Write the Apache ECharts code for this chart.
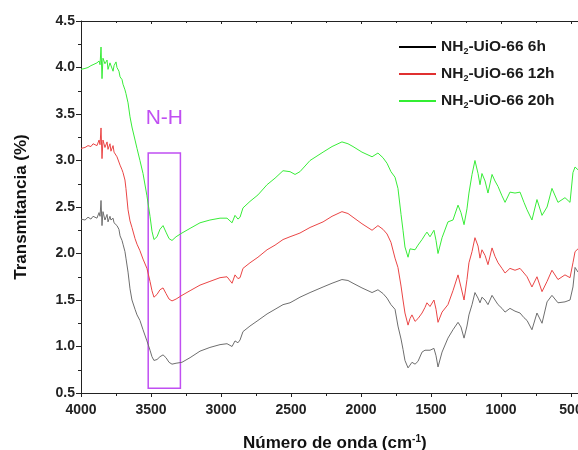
<!DOCTYPE html>
<html>
<head>
<meta charset="utf-8">
<script src="https://cdn.jsdelivr.net/npm/echarts@6/dist/echarts.min.js"></script>
<style>
html,body{margin:0;padding:0;background:#fff;}
#chart{width:578px;height:450px;}
</style>
</head>
<body>
<div id="chart"></div>
<script>
// Wavenumbers (cm^-1)
const wavenumbers = [4000,3971,3950,3929,3914,3900,3886,3871,3864,3857,3850,3843,3829,3814,3807,3793,3786,3771,3764,3750,3743,3729,3721,3707,3700,3686,3679,3664,3650,3636,3614,3600,3579,3557,3529,3507,3493,3479,3457,3436,3414,3393,3371,3350,3321,3279,3221,3150,3079,3007,2957,2921,2900,2879,2864,2843,2793,2736,2671,2614,2557,2507,2471,2436,2364,2271,2207,2136,2093,2057,1993,1921,1879,1843,1814,1786,1757,1736,1714,1700,1686,1664,1650,1636,1614,1593,1564,1543,1529,1507,1479,1464,1450,1421,1379,1343,1307,1286,1264,1243,1229,1207,1186,1164,1150,1136,1114,1093,1064,1043,1021,993,971,936,900,864,836,814,779,743,707,671,636,593,543,507,486,471,450];
const values6h = [2.37,2.36,2.39,2.37,2.40,2.42,2.38,2.44,2.40,2.57,2.30,2.45,2.36,2.42,2.34,2.40,2.36,2.38,2.33,2.34,2.30,2.26,2.19,2.14,2.10,2.02,1.95,1.80,1.62,1.50,1.40,1.34,1.28,1.18,1.06,0.96,0.89,0.85,0.86,0.89,0.91,0.88,0.83,0.81,0.82,0.83,0.88,0.95,0.99,1.02,1.03,1.00,1.06,1.04,1.07,1.16,1.22,1.28,1.35,1.40,1.45,1.47,1.50,1.53,1.58,1.64,1.68,1.72,1.71,1.68,1.63,1.58,1.61,1.57,1.52,1.45,1.40,1.22,1.08,0.97,0.85,0.77,0.80,0.83,0.81,0.84,0.94,0.96,0.98,0.96,0.98,0.90,0.78,0.94,1.09,1.18,1.26,1.21,1.09,1.22,1.34,1.45,1.58,1.52,1.47,1.53,1.50,1.45,1.55,1.50,1.45,1.41,1.37,1.41,1.38,1.36,1.31,1.28,1.18,1.36,1.25,1.48,1.55,1.47,1.48,1.50,1.64,1.85,1.80];
const values12h = [3.13,3.14,3.16,3.15,3.18,3.20,3.16,3.22,3.17,3.35,3.02,3.22,3.14,3.20,3.12,3.18,3.10,3.16,3.09,3.11,3.04,3.02,2.95,2.90,2.87,2.79,2.70,2.47,2.35,2.28,2.16,2.10,2.03,1.94,1.84,1.70,1.60,1.53,1.56,1.61,1.63,1.57,1.51,1.49,1.51,1.55,1.60,1.66,1.70,1.74,1.75,1.68,1.77,1.73,1.74,1.84,1.90,1.96,2.04,2.09,2.15,2.18,2.20,2.22,2.28,2.34,2.40,2.45,2.43,2.39,2.32,2.25,2.30,2.26,2.21,2.12,1.95,1.85,1.65,1.50,1.36,1.23,1.30,1.34,1.27,1.30,1.36,1.42,1.47,1.43,1.50,1.40,1.26,1.37,1.45,1.60,1.77,1.64,1.50,1.72,1.90,2.02,2.17,2.08,1.95,2.04,1.98,1.88,2.06,1.97,1.90,1.84,1.79,1.84,1.82,1.84,1.79,1.75,1.64,1.75,1.59,1.70,1.82,1.72,1.77,1.74,1.90,2.02,2.05];
const values20h = [3.98,3.99,4.00,4.02,4.03,4.02,4.05,4.07,4.03,4.22,3.88,4.10,4.04,4.08,3.98,4.05,4.07,3.96,4.02,4.06,4.00,3.96,3.90,3.87,3.82,3.76,3.72,3.62,3.47,3.36,3.22,3.13,3.00,2.86,2.62,2.40,2.24,2.15,2.18,2.26,2.30,2.23,2.16,2.14,2.18,2.22,2.27,2.33,2.36,2.38,2.38,2.33,2.41,2.37,2.39,2.49,2.56,2.63,2.74,2.81,2.89,2.88,2.85,2.88,3.00,3.09,3.15,3.20,3.18,3.15,3.09,3.04,3.08,3.03,2.97,2.88,2.82,2.70,2.42,2.25,2.07,1.96,2.05,2.04,2.04,2.09,2.15,2.20,2.23,2.18,2.25,2.14,2.00,2.17,2.34,2.36,2.52,2.44,2.31,2.48,2.65,2.85,3.00,2.86,2.74,2.86,2.78,2.65,2.85,2.78,2.72,2.62,2.55,2.66,2.65,2.66,2.55,2.47,2.36,2.58,2.41,2.50,2.70,2.55,2.60,2.55,2.87,2.93,2.90];
const seriesNames = ['NH2-UiO-66 6h','NH2-UiO-66 12h','NH2-UiO-66 20h'];
const xRange = [0, 4000];   // axis runs beyond the visible right edge (cropped like the original)
const xInterval = 500;
const yTicks = [0.5,1.0,1.5,2.0,2.5,3.0,3.5,4.0,4.5];
const nhBand = {label:'N-H', xFrom:3520, xTo:3290, yFrom:0.55, yTo:3.08};

const pair = (vals) => wavenumbers.map((w,i)=>[w, vals[i]]);
const FONT = '"Liberation Sans", Arial, sans-serif';
const purple = '#c04ff2';
const AX = '#222';

const chart = echarts.init(document.getElementById('chart'), null, {renderer:'canvas'});
chart.setOption({
  animation:false,
  backgroundColor:'#fff',
  title:{
    text:'Número de onda (cm{sup|-1})',
    left:238, top:429,
    textStyle:{fontFamily:FONT,fontSize:17,fontWeight:'bold',color:'#111',
      rich:{sup:{fontFamily:FONT,fontSize:10,fontWeight:'bold',color:'#111',verticalAlign:'top',padding:[0,0,9,0]}}}
  },
  grid:{left:81, top:21, width:560, height:372, show:false, containLabel:false, outerBoundsMode:'none'},
  legend:{
    orient:'vertical', left:394, top:33, itemGap:9, itemWidth:37, itemHeight:2, icon:'rect',
    data:[
      {name:seriesNames[0], itemStyle:{color:'#000'}},
      {name:seriesNames[1], itemStyle:{color:'#e03030'}},
      {name:seriesNames[2], itemStyle:{color:'#33ee33'}}
    ],
    formatter:(n)=>n.replace('NH2','NH{sub|2}'),
    textStyle:{fontFamily:FONT,fontSize:15.5,fontWeight:'bold',color:'#1a1a1a',lineHeight:18,
      rich:{sub:{fontFamily:FONT,fontSize:9,fontWeight:'bold',color:'#1a1a1a',verticalAlign:'bottom',padding:[7,0,0,0]}}}
  },
  xAxis:[
    {
      type:'value', inverse:true, min:xRange[0], max:xRange[1], interval:xInterval, position:'bottom',
      axisLine:{show:true, onZero:false, lineStyle:{color:AX, width:1}},
      axisTick:{show:true, inside:false, length:4, lineStyle:{color:AX}},
      minorTick:{show:true, splitNumber:2, length:3, lineStyle:{color:AX}},
      splitLine:{show:false},
      axisLabel:{fontFamily:FONT, fontSize:14, fontWeight:'bold', color:AX, margin:10, formatter:(v)=>String(v)}
    },
    {
      type:'value', inverse:true, min:xRange[0], max:xRange[1], interval:xInterval, position:'top',
      axisLine:{show:true, onZero:false, lineStyle:{color:AX, width:1}},
      axisTick:{show:true, inside:true, length:3, lineStyle:{color:AX}},
      minorTick:{show:true, splitNumber:2, length:2, lineStyle:{color:AX}},
      splitLine:{show:false}, axisLabel:{show:false}
    }
  ],
  yAxis:{
    type:'value', min:yTicks[0], max:yTicks[yTicks.length-1], interval:0.5,
    name:'Transmitancia (%)', nameLocation:'middle', nameGap:51, nameRotate:90,
    nameTextStyle:{fontFamily:FONT, fontSize:17, fontWeight:'bold', color:'#111'},
    axisLine:{show:true, onZero:false, lineStyle:{color:AX, width:1}},
    axisTick:{show:true, inside:false, length:5, lineStyle:{color:AX}},
    minorTick:{show:true, splitNumber:2, length:3, lineStyle:{color:AX}},
    splitLine:{show:false},
    axisLabel:{fontFamily:FONT, fontSize:14, fontWeight:'bold', color:AX, margin:6,
      formatter:(v)=>v.toFixed(1)}
  },
  series:[
    {name:seriesNames[0], type:'line', xAxisIndex:0, data:pair(values6h), symbol:'none', color:'#777',
      lineStyle:{width:1, color:'#6e6e6e'}, z:3},
    {name:seriesNames[1], type:'line', xAxisIndex:0, data:pair(values12h), symbol:'none', color:'#e83a3a',
      lineStyle:{width:1, color:'#ea4545'}, z:3},
    {name:seriesNames[2], type:'line', xAxisIndex:0, data:pair(values20h), symbol:'none', color:'#38ee38',
      lineStyle:{width:1, color:'#38ec38'}, z:3,
      markArea:{silent:true,
        itemStyle:{color:'rgba(0,0,0,0)', borderColor:purple, borderWidth:1.5},
        label:{show:true, position:'top', distance:24, color:purple, fontFamily:FONT, fontSize:21},
        data:[[{name:nhBand.label, coord:[nhBand.xFrom, nhBand.yTo]},{coord:[nhBand.xTo, nhBand.yFrom]}]]
      }
    }
  ]
});
</script>
</body>
</html>
